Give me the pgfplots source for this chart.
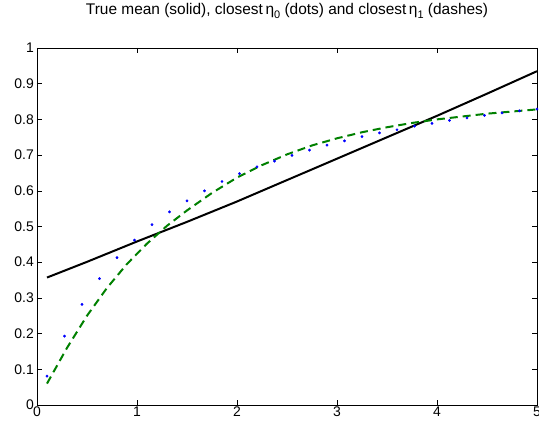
\documentclass[border=0pt]{standalone}
\usepackage{fontspec}
\setmainfont{Liberation Sans}
\usepackage{pgfplots}
\pgfplotsset{compat=1.18}
\definecolor{mgreen}{rgb}{0,0.5,0}
\newcommand{\sub}[1]{\raisebox{-0.55ex}{\fontsize{11}{12}\selectfont #1}}
\begin{document}
\begin{tikzpicture}
\begin{axis}[
  at={(0,0)}, anchor=south west,
  scale only axis, width=500bp, height=357bp,
  xmin=0, xmax=5, ymin=0, ymax=1,
  xtick={0,1,2,3,4,5},
  ytick={0,0.1,0.2,0.3,0.4,0.5,0.6,0.7,0.8,0.9,1},
  yticklabels={0,0.1,0.2,0.3,0.4,0.5,0.6,0.7,0.8,0.9,1},
  tick align=inside, major tick length=5bp,
  tick style={black, line width=0.5pt},
  axis line style={line width=0.7pt},
  ticklabel style={font=\fontsize{14}{16}\selectfont},
  xticklabel style={anchor=north, yshift=0bp, inner sep=2bp},
  yticklabel style={anchor=east, inner sep=2bp, xshift=-1bp},
  /pgf/number format/assume math mode=true,
  title={True mean (solid), closest\,η\sub{0} (dots) and closest\,η\sub{1} (dashes)},
  title style={font=\fontsize{15.5}{17}\selectfont, at={(axis description cs:0.5,1)}, anchor=base, yshift=28bp, inner sep=0pt},
]
\addplot[black, line width=2bp] coordinates {
 (0.1,0.357) (0.5,0.401) (1,0.458) (1.5,0.513) (2,0.570) (2.5,0.630) (3,0.690) (3.5,0.750) (4,0.810) (4.5,0.872) (5,0.935)
};
\addplot[only marks, mark=*, mark size=1.2bp, blue] coordinates {
 (0.1,0.081) (0.275,0.193) (0.45,0.282) (0.625,0.354) (0.8,0.413) (0.975,0.462)
 (1.15,0.505) (1.325,0.541) (1.5,0.572) (1.675,0.600) (1.85,0.626) (2.025,0.648)
 (2.2,0.667) (2.375,0.683) (2.55,0.699) (2.725,0.714) (2.9,0.728) (3.075,0.740)
 (3.25,0.752) (3.425,0.762) (3.6,0.771) (3.775,0.781) (3.95,0.789) (4.125,0.797)
 (4.3,0.804) (4.475,0.811) (4.65,0.818) (4.825,0.824) (5.0,0.829)
};
\addplot[mgreen, line width=2bp, dash pattern=on 8bp off 5bp] coordinates {
 (0.1,0.060) (0.3,0.160) (0.5,0.250) (0.7,0.328) (0.9,0.395) (1.1,0.452) (1.3,0.502)
 (1.5,0.545) (1.75,0.594) (2.0,0.637) (2.25,0.672) (2.5,0.702) (2.75,0.727)
 (3.0,0.747) (3.25,0.764) (3.5,0.778) (3.75,0.790) (4.0,0.800) (4.25,0.808)
 (4.5,0.816) (4.75,0.822) (5.0,0.828)
};
\end{axis}
\pgfresetboundingbox
\path[use as bounding box] (-37bp,-21bp) rectangle (502bp,405bp);
\end{tikzpicture}
\end{document}
